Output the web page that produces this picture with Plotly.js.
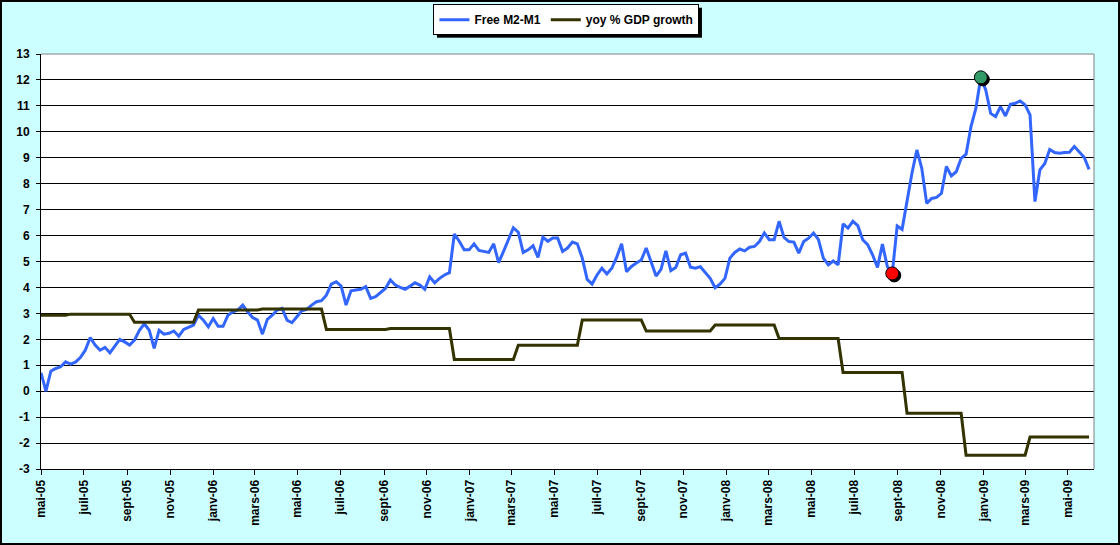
<!DOCTYPE html>
<html><head><meta charset="utf-8">
<script src="https://cdn.plot.ly/plotly-3.0.1.min.js"></script>
<style>
html,body{margin:0;padding:0;background:#CCFFFF;overflow:hidden;}
#chart{position:absolute;left:0;top:0;width:1120px;height:545px;}
#frame{position:absolute;left:0;top:0;width:1120px;height:545px;box-sizing:border-box;border:2px solid #000;pointer-events:none;}
</style></head><body>
<div id="chart"></div><div id="frame"></div>
<script>
// Weekly series, first week starting on this date
const startDate = '2005-05-01';

// Free M2-M1 (weekly, % yoy)
const m2m1 = [
  0.71, 0.0, 0.77, 0.875, 0.94, 1.13, 1.04, 1.12, 1.3, 1.58,
  2.07, 1.78, 1.58, 1.69, 1.48, 1.74, 2.0, 1.9, 1.78, 1.97,
  2.35, 2.6, 2.35, 1.65, 2.35, 2.2, 2.23, 2.32, 2.12, 2.38,
  2.45, 2.55, 2.93, 2.74, 2.48, 2.8, 2.5, 2.5, 2.93, 3.06,
  3.13, 3.32, 3.06, 2.84, 2.74, 2.2, 2.77, 2.93, 3.13, 3.19,
  2.74, 2.64, 2.87, 3.1, 3.15, 3.32, 3.45, 3.49, 3.7, 4.13,
  4.22, 4.05, 3.32, 3.87, 3.9, 3.93, 4.03, 3.58, 3.64, 3.8,
  3.96, 4.29, 4.09, 4.0, 3.93, 4.05, 4.18, 4.09, 3.93, 4.41,
  4.18, 4.35, 4.48, 4.57,
  6.06, 5.78, 5.45, 5.45, 5.68, 5.43, 5.39, 5.35, 5.68, 4.96,
  5.39, 5.87, 6.30, 6.13, 5.35, 5.45, 5.61, 5.16, 5.94, 5.78,
  5.91, 5.91, 5.39, 5.52, 5.75, 5.68, 5.13, 4.31, 4.13, 4.48,
  4.74, 4.52, 4.74, 5.17, 5.68, 4.61, 4.81, 4.94, 5.06, 5.52,
  5.0, 4.44,
  4.70, 5.41, 4.65, 4.77, 5.26, 5.32, 4.78, 4.74, 4.80, 4.57,
  4.35, 3.99, 4.13, 4.35, 5.13, 5.35, 5.48, 5.41, 5.55, 5.58,
  5.77, 6.10, 5.84, 5.84, 6.55, 5.93, 5.77, 5.75, 5.32, 5.77,
  5.90, 6.10, 5.84, 5.13, 4.87, 5.02, 4.87, 6.45, 6.29, 6.55,
  6.38, 5.84, 5.65, 5.26, 4.77,
  5.67, 4.80, 4.54, 6.37, 6.24, 7.37, 8.4, 9.3, 8.59, 7.24,
  7.43, 7.47, 7.63, 8.66, 8.30, 8.46, 8.98, 9.14, 10.2, 10.91,
  12.1, 11.61, 10.71, 10.59, 10.97, 10.61, 11.06, 11.10, 11.19, 11.04,
  10.65, 7.31, 8.53, 8.78, 9.32, 9.20, 9.17, 9.20, 9.21, 9.43,
  9.23, 9.02, 8.55
];

// yoy % GDP growth: quarterly value, effective from these weeks
const gdpQuarterStarts = [
  '2005-05-01', '2005-06-12', '2005-09-11', '2005-12-11', '2006-03-12',
  '2006-06-11', '2006-09-10', '2006-12-10', '2007-03-11', '2007-06-10',
  '2007-09-09', '2007-12-16', '2008-03-16', '2008-06-15', '2008-09-14',
  '2008-12-07', '2009-03-08'
];
const gdpValues = [
  2.93, 2.97, 2.66, 3.13, 3.17,
  2.38, 2.42, 1.22, 1.77, 2.74,
  2.32, 2.55, 2.03, 0.72, -0.85,
  -2.47, -1.77
];

// Axis ticks
const tickDates = [
  '2005-05-01','2005-07-01','2005-09-01','2005-11-01',
  '2006-01-01','2006-03-01','2006-05-01','2006-07-01','2006-09-01','2006-11-01',
  '2007-01-01','2007-03-01','2007-05-01','2007-07-01','2007-09-01','2007-11-01',
  '2008-01-01','2008-03-01','2008-05-01','2008-07-01','2008-09-01','2008-11-01',
  '2009-01-01','2009-03-01','2009-05-01'
];
const tickLabels = [
  'mai-05','juil-05','sept-05','nov-05',
  'janv-06','mars-06','mai-06','juil-06','sept-06','nov-06',
  'janv-07','mars-07','mai-07','juil-07','sept-07','nov-07',
  'janv-08','mars-08','mai-08','juil-08','sept-08','nov-08',
  'janv-09','mars-09','mai-09'
];
const yTicks = [-3,-2,-1,0,1,2,3,4,5,6,7,8,9,10,11,12,13];

// Highlighted weeks on the M2-M1 line
const highlightDates = ['2008-08-24', '2008-12-28'];
const highlightColors = ['#FF0000', '#339966'];

const seriesNames = ['Free M2-M1', 'yoy % GDP growth'];

function addDays(s, n) {
  const d = new Date(s + 'T00:00:00Z');
  d.setUTCDate(d.getUTCDate() + n);
  return d.toISOString().slice(0, 10);
}
const weeks = m2m1.map((_, i) => addDays(startDate, 7 * i));
const gdpWeekly = weeks.map(d => {
  let v = gdpValues[0];
  for (let j = 0; j < gdpQuarterStarts.length; j++) if (gdpQuarterStarts[j] <= d) v = gdpValues[j];
  return v;
});
const hiVals = highlightDates.map(d => m2m1[weeks.indexOf(d)]);
const b = s => '<b>' + s + '</b>';

const FONT = 'Liberation Sans, Arial, sans-serif';

const traces = [
  { x: weeks, y: m2m1, type: 'scatter', mode: 'lines', name: b(seriesNames[0]),
    line: { color: '#3366FF', width: 3 } },
  { x: weeks, y: gdpWeekly, type: 'scatter', mode: 'lines', name: b(seriesNames[1]),
    line: { color: '#333300', width: 3 } },
  { x: highlightDates, y: hiVals, type: 'scatter', mode: 'markers', showlegend: false,
    marker: { size: 13, color: highlightColors, line: { color: '#000000', width: 1 } } }
];

const layout = {
  width: 1120, height: 545,
  margin: { l: 41, r: 26, t: 54, b: 76, autoexpand: false },
  paper_bgcolor: '#CCFFFF', plot_bgcolor: '#FFFFFF',
  font: { family: FONT, size: 12, color: '#000' },
  showlegend: true,
  legend: {
    orientation: 'h', x: 0.499, xanchor: 'center', y: 1.12, yanchor: 'top',
    bgcolor: '#FFFFFF', bordercolor: '#000000', borderwidth: 1,
    font: { family: FONT, size: 12, color: '#000' },
    itemwidth: 30, tracegroupgap: 0
  },
  xaxis: {
    type: 'date', range: ['2005-05-01', '2009-06-07'],
    tickmode: 'array', tickvals: tickDates, ticktext: tickLabels.map(b),
    tickangle: -90, ticks: 'outside', ticklen: 5, tickcolor: '#000',
    showgrid: false, zeroline: false, showline: true, linecolor: '#000', linewidth: 1,
    tickfont: { family: FONT, size: 12, color: '#000' }
  },
  yaxis: {
    range: [-3, 13], tickmode: 'array', tickvals: yTicks, ticktext: yTicks.map(v => b(String(v))),
    ticks: 'outside', ticklen: 4, tickcolor: '#000', ticklabelstandoff: 4,
    showgrid: true, gridcolor: '#000000', gridwidth: 1, zeroline: false,
    showline: true, linecolor: '#000', linewidth: 1,
    tickfont: { family: FONT, size: 12, color: '#000' }
  },
  shapes: [
    { type: 'line', xref: 'paper', yref: 'paper', x0: 0, x1: 1, y0: 1, y1: 1,
      line: { color: '#808080', width: 1 }, layer: 'above' },
    { type: 'line', xref: 'paper', yref: 'paper', x0: 1, x1: 1, y0: 0, y1: 1,
      line: { color: '#808080', width: 1 }, layer: 'above' }
  ]
};

Plotly.newPlot('chart', traces, layout, { displayModeBar: false, staticPlot: true }).then(gd => {
  const NS = 'http://www.w3.org/2000/svg';
  // drop shadow behind the legend box
  const bg = gd.querySelector('.legend rect.bg');
  if (bg) {
    const sh = document.createElementNS(NS, 'rect');
    ['x','y','width','height'].forEach(a => sh.setAttribute(a, bg.getAttribute(a) || 0));
    sh.setAttribute('transform', 'translate(3,3)');
    sh.setAttribute('fill', '#000');
    bg.parentNode.insertBefore(sh, bg);
  }
  // drop shadows behind highlighted markers
  const tr = gd.querySelectorAll('.scatterlayer .trace');
  const mk = tr[2];
  if (mk) {
    mk.querySelectorAll('path.point').forEach(p => {
      const c = p.cloneNode(true);
      c.setAttribute('transform', (p.getAttribute('transform') || '') + ' translate(2,2)');
      c.style.fill = '#000'; c.style.stroke = '#000';
      p.parentNode.insertBefore(c, p);
    });
  }
});
</script>
</body></html>
